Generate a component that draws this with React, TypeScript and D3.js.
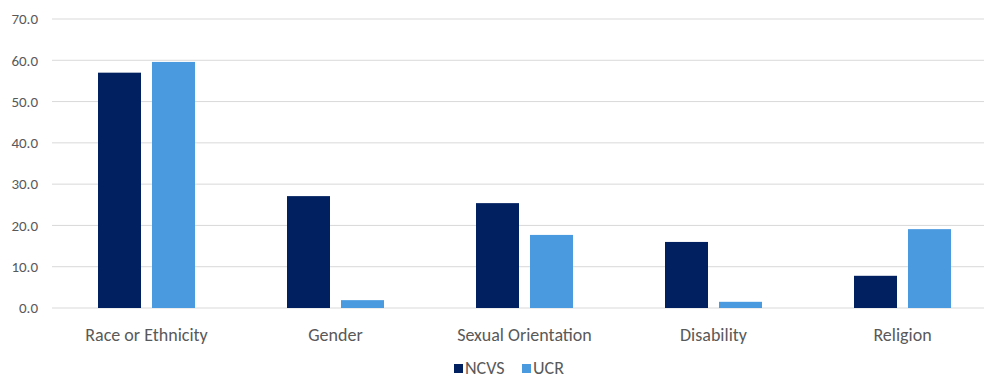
import React from "react";
import * as d3 from "d3";

const categories = ["Race or Ethnicity", "Gender", "Sexual Orientation", "Disability", "Religion"];
const ncvs = [57.0, 27.1, 25.4, 16.0, 7.8];
const ucr = [59.6, 1.9, 17.7, 1.5, 19.1];
const yTicks = [0, 10, 20, 30, 40, 50, 60, 70];
const seriesNames = ["NCVS", "UCR"];
const colors = ["#002060", "#4A9AE0"];

export default function App() {
  const W = 984, H = 378;
  const x = d3.scaleBand<string>().domain(categories).range([52, 997]).paddingInner(0).paddingOuter(0);
  const y = d3.scaleLinear().domain([0, 70]).range([308, 19]);
  const bw = x.bandwidth();
  const barW = 43, gap = 11;
  const font = "Calibri, Carlito, Lato, sans-serif";
  const series = [ncvs, ucr];
  return (
    <svg width={W} height={H} style={{ position: "fixed", left: 0, top: 0, background: "#fff" }} fontFamily={font}>
      {yTicks.map((t) => (
        <g key={t}>
          <line x1={52} x2={W} y1={y(t)} y2={y(t)} stroke="#d9d9d9" strokeWidth={1} />
          <text x={38} y={y(t)} dy="0.35em" textAnchor="end" fontSize={15} fill="#595959">{t.toFixed(1)}</text>
        </g>
      ))}
      {categories.map((c, i) => {
        const cx = (x(c) as number) + bw / 2;
        return (
          <g key={c}>
            {series.map((s, j) => {
              const bx = j === 0 ? cx - gap / 2 - barW : cx + gap / 2;
              return <rect key={j} x={bx} y={y(s[i])} width={barW} height={y(0) - y(s[i])} fill={colors[j]} />;
            })}
            <text x={cx} y={341} textAnchor="middle" fontSize={18} fill="#595959">{c}</text>
          </g>
        );
      })}
      <g>
        <rect x={454} y={364} width={9} height={9} fill={colors[0]} />
        <text x={465} y={374} fontSize={18} fill="#595959">{seriesNames[0]}</text>
        <rect x={522} y={364} width={9} height={9} fill={colors[1]} />
        <text x={533} y={374} fontSize={18} fill="#595959">{seriesNames[1]}</text>
      </g>
    </svg>
  );
}
